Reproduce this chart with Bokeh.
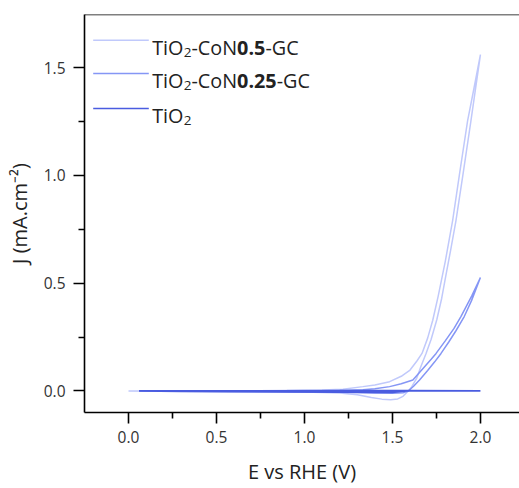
from bokeh.plotting import figure
from bokeh.models import Range1d, FixedTicker, Span, Label, BoxAnnotation, NumeralTickFormatter
from bokeh.embed import file_html
from bokeh.resources import INLINE

# ---------------- data ----------------
# TiO2-CoN0.5-GC : forward (lower) branch then reverse (upper) branch
con05_E = [0.0, 0.2, 0.4, 0.6, 0.8, 1.0, 1.1, 1.2, 1.3, 1.38, 1.44, 1.49, 1.53, 1.56, 1.59,
           1.61, 1.638, 1.66, 1.691, 1.72, 1.752, 1.78, 1.8, 1.83, 1.861, 1.9, 1.946, 2.0,
           1.96, 1.927, 1.88, 1.842, 1.8, 1.76, 1.729, 1.7, 1.668, 1.64, 1.6, 1.55, 1.484,
           1.4, 1.332, 1.219, 1.1, 0.9, 0.6, 0.3, 0.0]
con05_J = [0.0, -0.001, -0.002, -0.003, -0.004, -0.005, -0.007, -0.010, -0.018, -0.030, -0.038, -0.041, -0.037, -0.025, 0.0,
           0.02, 0.059, 0.11, 0.174, 0.24, 0.33, 0.43, 0.52, 0.65, 0.79, 1.0, 1.253, 1.56,
           1.39, 1.253, 1.0, 0.79, 0.6, 0.44, 0.328, 0.245, 0.174, 0.14, 0.097, 0.068, 0.043,
           0.028, 0.020, 0.008, 0.004, 0.002, 0.0, 0.0, 0.0]

# TiO2-CoN0.25-GC
con025_E = [0.06, 0.3, 0.6, 0.9, 1.1, 1.2, 1.3, 1.4, 1.5, 1.56, 1.59, 1.62, 1.654, 1.7, 1.74,
            1.776, 1.82, 1.86, 1.908, 1.95, 2.0,
            1.95, 1.889, 1.85, 1.8, 1.748, 1.72, 1.68, 1.616, 1.55, 1.484, 1.4, 1.332,
            1.2, 1.0, 0.7, 0.4, 0.06]
con025_J = [0.0, -0.002, -0.003, -0.004, -0.005, -0.006, -0.007, -0.009, -0.011, -0.008, 0.0, 0.022, 0.051, 0.095, 0.135,
            0.174, 0.227, 0.278, 0.345, 0.42, 0.526,
            0.44, 0.345, 0.29, 0.232, 0.174, 0.147, 0.11, 0.051, 0.033, 0.020, 0.010, 0.005,
            0.002, 0.001, 0.0, 0.0, 0.0]

# TiO2
tio2_E = [0.06, 0.3, 0.6, 0.9, 1.2, 1.4, 1.5, 1.58, 1.7, 1.85, 2.0,
          1.58, 1.2, 0.6, 0.06]
tio2_J = [0.0, -0.002, -0.003, -0.004, -0.005, -0.006, -0.006, 0.0, 0.0, 0.0, 0.0,
          0.001, 0.001, 0.0, 0.0]

x_ticks = [0.0, 0.5, 1.0, 1.5, 2.0]
x_minor = [0.25, 0.75, 1.25, 1.75]
y_ticks = [0.0, 0.5, 1.0, 1.5]
y_minor = [0.25, 0.75, 1.25]
x_title = "E vs RHE (V)"
y_title = "J (mA.cm⁻²)"

series_colors = ["#c0c9fb", "#8596f5", "#4a5ce0"]
# legend rows as (text, style) pieces
legend_rows = [
    [("TiO", "n"), ("2", "sub"), ("-CoN", "n"), ("0.5", "b"), ("-GC", "n")],
    [("TiO", "n"), ("2", "sub"), ("-CoN", "n"), ("0.25", "b"), ("-GC", "n")],
    [("TiO", "n"), ("2", "sub")],
]

# ---------------- figure ----------------
p = figure(width=519, height=488,
           x_range=Range1d(-0.25, 2.222), y_range=Range1d(-0.1, 1.746),
           output_backend="svg", toolbar_location=None,
           min_border_left=84, min_border_right=0, min_border_top=14, min_border_bottom=76)
p.grid.visible = False
p.outline_line_color = None
p.background_fill_color = "white"
p.border_fill_color = "white"

p.line(con05_E, con05_J, line_color=series_colors[0], line_width=1.5)
p.line(con025_E, con025_J, line_color=series_colors[1], line_width=1.5)
p.line(tio2_E, tio2_J, line_color=series_colors[2], line_width=1.8)

for ax, ticks, minor in ((p.xaxis[0], x_ticks, x_minor), (p.yaxis[0], y_ticks, y_minor)):
    ax.ticker = FixedTicker(ticks=ticks, minor_ticks=minor)
    ax.formatter = NumeralTickFormatter(format="0.0")
    ax.axis_line_width = 1.6
    ax.axis_line_color = "black"
    ax.major_tick_line_width = 1.6
    ax.minor_tick_line_width = 1.6
    ax.major_tick_in = 0
    ax.major_tick_out = 11
    ax.minor_tick_in = 0
    ax.minor_tick_out = 6
    ax.major_label_text_font = "Open Sans"
    ax.major_label_text_font_size = "15.5px"
    ax.major_label_text_color = "#333333"
    ax.axis_label_text_font = "Open Sans"
    ax.axis_label_text_font_size = "20px"
    ax.axis_label_text_font_style = "normal"
    ax.axis_label_text_color = "#222222"

p.xaxis.axis_label = x_title
p.yaxis.axis_label = y_title
p.xaxis.major_label_standoff = 7
p.yaxis.major_label_standoff = 8
p.xaxis.axis_label_standoff = 12
p.yaxis.axis_label_standoff = 8

p.add_layout(Span(location=1.746, dimension="width", line_color="black", line_width=1.6))

# ---------------- manual legend ----------------
W = {"T": .560, "i": .253, "O": .781, "2": .572, "-": .322, "C": .631, "o": .604,
     "N": .747, "0": .572, ".": .286, "5": .572, "G": .726}
F = 19.8
SUB = 13.5
line_y = [372.3, 339.0, 304.0]        # screen y of legend samples (from frame bottom)
base_y = [365.0, 331.6, 296.6]        # text baselines
for k, row in enumerate(legend_rows):
    p.add_layout(BoxAnnotation(left=8.7, right=64.3, bottom=line_y[k] - 0.8, top=line_y[k] + 0.8,
                               left_units="screen", right_units="screen",
                               top_units="screen", bottom_units="screen",
                               fill_color=series_colors[k], fill_alpha=1.0, line_color=None))
    x = 67.7
    for txt, st in row:
        size = SUB if st == "sub" else F
        y = base_y[k] - 5 if st == "sub" else base_y[k]
        p.add_layout(Label(x=x, y=y, x_units="screen", y_units="screen", text=txt,
                           text_font="Open Sans", text_font_size=f"{size}px",
                           text_font_style="bold" if st == "b" else "normal",
                           text_color="#222222", text_baseline="alphabetic", text_align="left"))
        x += sum(W.get(c, .57) for c in txt) * size * 1.0

open("out.html", "w").write(file_html(p, INLINE))
